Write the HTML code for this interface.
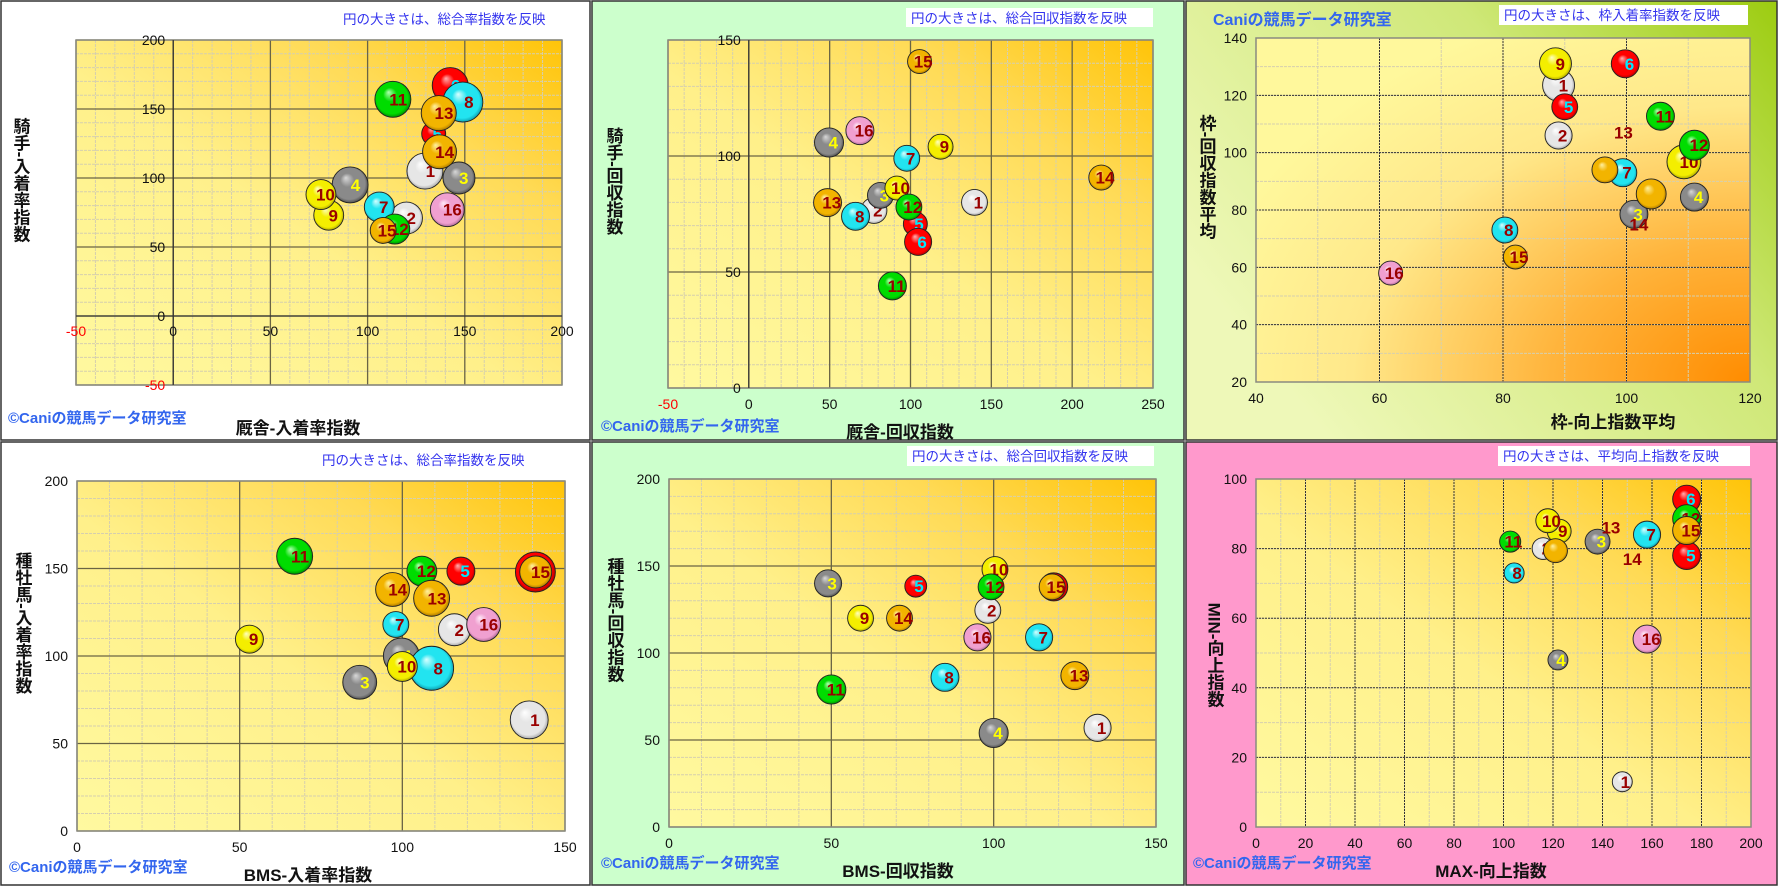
<!DOCTYPE html>
<html><head><meta charset="utf-8">
<style>
html,body{margin:0;padding:0;background:#fff;}
svg{display:block;font-family:"Liberation Sans","Noto Sans CJK JP",sans-serif;}
</style></head>
<body>
<svg id="root" width="1778" height="886" viewBox="0 0 1778 886" xmlns="http://www.w3.org/2000/svg">
<defs>
  <linearGradient id="plotGrad" x1="0" y1="1" x2="1" y2="0">
    <stop offset="0" stop-color="#fff9a0"/><stop offset="0.45" stop-color="#fff08a"/><stop offset="0.75" stop-color="#ffda55"/><stop offset="1" stop-color="#ffc408"/>
  </linearGradient>
  <radialGradient id="plotGrad3" cx="1" cy="1" r="1.15">
    <stop offset="0" stop-color="#ff8c00"/><stop offset="0.35" stop-color="#ffb43c"/><stop offset="0.7" stop-color="#ffe88a"/><stop offset="1" stop-color="#fff89c"/>
  </radialGradient>
  <linearGradient id="p3bg" x1="0" y1="0.6" x2="1" y2="0">
    <stop offset="0" stop-color="#eef8b8"/><stop offset="0.6" stop-color="#cfe878"/><stop offset="1" stop-color="#9ccc10"/>
  </linearGradient>
</defs>
</svg>
<script>
// ---------- data (horse 1..16 per chart) ----------
const horses = [1,2,3,4,5,6,7,8,9,10,11,12,13,14,15,16];
// chart 1: 厩舎-入着率指数 vs 騎手-入着率指数
const c1x = [129.5,120,147,91,134,142.5,106,149,80,76,113,114,136.6,137,108,141];
const c1y = [105,71,100,95,132,167,79,155,73,88,157,63,147,119,62,77];
const c1s = [81,64,64,81,36,81,56,100,56,56,81,56,77,72,42,72];
// chart 2: 厩舎-回収指数 vs 騎手-回収指数
const c2x = [139.6,77.4,81.4,49.6,103,104.7,97.7,66,118.6,91.6,88.8,99,48.7,218,105.6,68.7];
const c2y = [80,76.5,83,105.8,70.7,63,99,74,104,86.2,44,78,79.9,90.7,140.7,110.9];
const c2s = [42,42,42,53,36,46,42,49,39,36,49,42,49,39,36,49];
// chart 3: 枠-向上指数平均 vs 枠-回収指数平均
const c3x = [89,89,101.2,111,90,99.8,99.4,80.3,88.5,109.3,105.5,111,96.5,104,82,61.8];
const c3y = [123.5,106,78.5,84.5,116,131,93,73,131,96.8,112.7,102.6,94,85.6,63.6,58];
const c3s = [64,46,49,49,42,49,49,42,64,72,49,56,42,56,36,36];
const c3labelX = [null,null,null,null,null,null,null,null,null,null,null,null,99.5,102,null,null];
const c3labelY = [null,null,null,null,null,null,null,null,null,null,null,null,107,75,null,null];
// chart 4: BMS-入着率指数 vs 種牡馬-入着率指数
const c4x = [139,116,86.9,99.7,118,140.9,98,109,53,100,66.9,106,109,97,141,125];
const c4y = [63.5,115,85,100,148.5,148,118,93,109.6,94,157,148.5,133,138,148,118];
const c4s = [90,64,72,81,49,100,42,121,49,56,81,56,81,72,64,72];
// chart 5: BMS-回収指数 vs 種牡馬-回収指数
const c5x = [132,98.2,49,100,76,118.5,114,85,59,100.4,50,99.2,125,71,118,95];
const c5y = [57,124.5,140,54,138.4,138,109,86,120,148,79,138,87,120,138,109];
const c5s = [46,42,46,53,30,49,46,49,42,42,53,42,49,42,42,46];
// chart 6: MAX-向上指数 vs MIN-向上指数
const c6x = [148,116,138,122,174,174,158,104.3,122.5,117.9,102.7,174,143.4,121,174,158];
const c6y = [13,80,82,48,78,94.2,84,73,85,88,82,88.6,86,79.4,85.2,54];
const c6s = [25,30,39,25,49,49,46,25,36,36,28,49,0,36,49,49];
const c6labelX = [null,null,null,null,null,null,null,null,null,null,null,null,null,152,null,null];
const c6labelY = [null,null,null,null,null,null,null,null,null,null,null,null,null,77,null,null];
// tick labels
const ticks1x = [-50,0,50,100,150,200];
const ticks1y = [-50,0,50,100,150,200];
const ticks2x = [-50,0,50,100,150,200,250];
const ticks2y = [0,50,100,150];
const ticks3x = [40,60,80,100,120];
const ticks3y = [20,40,60,80,100,120,140];
const ticks4x = [0,50,100,150];
const ticks4y = [0,50,100,150,200];
const ticks5x = [0,50,100,150];
const ticks5y = [0,50,100,150,200];
const ticks6x = [0,20,40,60,80,100,120,140,160,180,200];
const ticks6y = [0,20,40,60,80,100];

// ---------- styling ----------
const NS = "http://www.w3.org/2000/svg";
const svg = document.getElementById('root');
const defs = svg.querySelector('defs');
const colorOf = ['white','white','gray','gray','red','red','cyan','cyan','yellow','yellow','green','green','gold','gold','gold','pink'];
const palette = {
  white:['#ffffff','#e6e6e6','#8a8a8a'], gray:['#d8d8d8','#8a8a8a','#333333'],
  red:['#ffb0b0','#ff0000','#880000'], cyan:['#d8ffff','#22e4f0','#007f90'],
  green:['#b0ffb0','#00dc00','#006600'], gold:['#fff0a0','#f2b400','#8a5c00'],
  yellow:['#ffffc0','#f4ee00','#8a8400'], pink:['#ffe8f6','#f0a0d0','#94507a']
};
Object.keys(palette).forEach(k=>{
  const g=document.createElementNS(NS,'radialGradient');
  g.setAttribute('id','sp-'+k);g.setAttribute('cx','0.5');g.setAttribute('cy','0.5');g.setAttribute('r','0.55');
  g.setAttribute('fx','0.38');g.setAttribute('fy','0.3');
  [[0,palette[k][0]],[0.35,palette[k][1]],[0.8,palette[k][1]],[1,palette[k][2]]].forEach(s=>{
    const st=document.createElementNS(NS,'stop');st.setAttribute('offset',s[0]);st.setAttribute('stop-color',s[1]);g.appendChild(st);
  });
  defs.appendChild(g);
});
function labelColor(h){ return (h===3||h===4)?'#ffff00':(h===5||h===6)?'#00e8ff':'#990000'; }

function el(tag, attrs, parent){
  const e=document.createElementNS(NS,tag);
  for(const k in attrs) e.setAttribute(k,attrs[k]);
  (parent||svg).appendChild(e); return e;
}
function txt(parent, x, y, s, opts){
  const t=el('text',Object.assign({x:x,y:y},opts||{}),parent); t.textContent=s; return t;
}

function drawChart(cfg, xs, ys, ss, lx, ly, tx, ty){
  const g=el('g',{});
  
  
  const bg=el('rect',{x:cfg.px,y:cfg.py,width:cfg.pw,height:cfg.ph,fill:cfg.bg,stroke:'#333','stroke-width':1.5},g);
  
  
  const L=cfg.l,R=cfg.r,T=cfg.t,B=cfg.b;
  const X=v=>L+(v-cfg.x0)/(cfg.x1-cfg.x0)*(R-L);
  const Y=v=>B-(v-cfg.y0)/(cfg.y1-cfg.y0)*(B-T);
  const plot=el('rect',{x:L,y:T,width:R-L,height:B-T,fill:cfg.plotFill},g);
  
  
  const grid=el('g',{},g);
  
  
  for(let v=cfg.x0; v<=cfg.x1+1e-9; v+=cfg.xmin){ el('line',{x1:X(v),x2:X(v),y1:T,y2:B,stroke:'#d6cfae','stroke-width':1,'stroke-dasharray':'3,1'},grid); }
  for(let v=cfg.y0; v<=cfg.y1+1e-9; v+=cfg.ymin){ el('line',{x1:L,x2:R,y1:Y(v),y2:Y(v),stroke:'#d6cfae','stroke-width':1,'stroke-dasharray':'3,1'},grid); }
  const majStyle=cfg.dotted?{stroke:'#333','stroke-width':1,'stroke-dasharray':'2,1'}:{stroke:'#6a6444','stroke-width':1.3};
  tx.forEach(v=>{ el('line',Object.assign({x1:X(v),x2:X(v),y1:T,y2:B},majStyle),grid); });
  ty.forEach(v=>{ el('line',Object.assign({x1:L,x2:R,y1:Y(v),y2:Y(v)},majStyle),grid); });
  el('rect',{x:L,y:T,width:R-L,height:B-T,fill:'none',stroke:'#8a8a80','stroke-width':1.5},g);
  if(cfg.crossY){ el('line',{x1:X(0),x2:X(0),y1:T,y2:B,stroke:'#333','stroke-width':1.3},g); }
  if(cfg.crossX){ el('line',{x1:L,x2:R,y1:Y(0),y2:Y(0),stroke:'#333','stroke-width':1.3},g); }
  const yLabX = cfg.crossY ? X(0)-8 : L-9;
  const xLabY = cfg.crossX ? Y(0)+20 : B+21;
  ty.forEach(v=>{ const t=txt(g,yLabX,Y(v)+5,String(v),{'font-size':14,'text-anchor':'end',fill:v<0?'#ff0000':'#111'});
    
     });
  tx.forEach(v=>{ const t=txt(g,X(v),xLabY,String(v),{'font-size':14,'text-anchor':'middle',fill:v<0?'#ff0000':'#111'});
    
     });
  const bub=el('g',{},g);
  
  
  horses.forEach((h,i)=>{
    const cx=X(xs[i]), cy=Y(ys[i]), r=2*Math.sqrt(ss[i]);
    if(r>0){
      const c=el('circle',{cx:cx,cy:cy,r:r,fill:'url(#sp-'+colorOf[i]+')',stroke:'#222','stroke-width':0.9},bub);
      
      
    }
    const lxp = (lx && lx[i]!=null) ? X(lx[i]) : cx + r*0.3;
    const lyp = (ly && ly[i]!=null) ? Y(ly[i]) : cy;
    const t=txt(bub,lxp,lyp+6,String(h),{'font-size':17,'font-weight':'bold','text-anchor':'middle',fill:labelColor(h),'font-family':'"Liberation Sans Narrow","Liberation Sans",sans-serif'});
    
    
  });
  if(cfg.noteBox){ const nb=el('rect',{x:cfg.noteBox[0],y:cfg.noteBox[1],width:cfg.noteBox[2],height:cfg.noteBox[3],fill:'#fff'},g);
    
     }
  const nt=txt(g,cfg.note[0],cfg.note[1],cfg.noteText,{'font-size':13.5,fill:'#3333ee'});
  
  
  const cp=txt(g,cfg.copy[0],cfg.copy[1],'©Caniの競馬データ研究室',{'font-size':cfg.copyTop?16:15,'font-weight':'bold',fill:'#3366ee'});
  
  
  if(cfg.copyTop) cp.textContent='Caniの競馬データ研究室';
  const xt=txt(g,cfg.xt[0],cfg.xt[1],cfg.xTitle,{'font-size':17,'font-weight':'bold','text-anchor':'middle',fill:'#111'});
  
  
  const yt=txt(g,cfg.yt[0],cfg.yt[1],cfg.yTitle,{'font-size':17,'font-weight':'bold','text-anchor':'middle',fill:'#111','writing-mode':'vertical-rl','glyph-orientation-vertical':'0'});
  
  
}

drawChart({name:'chart-stable-vs-jockey-rate',px:1,py:1,pw:589,ph:439,bg:'#fff',l:76,r:562,t:40,b:385,x0:-50,x1:200,y0:-50,y1:200,xmin:10,ymin:10,crossX:true,crossY:true,plotFill:'url(#plotGrad)',
  note:[343,24],noteText:'円の大きさは、総合率指数を反映',copy:[8,423],xt:[298,434],xTitle:'厩舎-入着率指数',yt:[20,180],yTitle:'騎手-入着率指数'},
  c1x,c1y,c1s,null,null,ticks1x,ticks1y);
drawChart({name:'chart-stable-vs-jockey-return',px:592,py:1,pw:592,ph:439,bg:'#ccffcc',l:668,r:1153,t:40,b:388,x0:-50,x1:250,y0:0,y1:150,xmin:10,ymin:10,crossX:false,crossY:true,plotFill:'url(#plotGrad)',
  noteBox:[906,8,247,19],note:[911,23],noteText:'円の大きさは、総合回収指数を反映',copy:[601,431],xt:[900,438],xTitle:'厩舎-回収指数',yt:[613,181],yTitle:'騎手-回収指数'},
  c2x,c2y,c2s,null,null,ticks2x,ticks2y);
drawChart({name:'chart-frame-improve-vs-return',px:1186,py:1,pw:591,ph:439,bg:'url(#p3bg)',l:1256,r:1750,t:38,b:382,x0:40,x1:120,y0:20,y1:140,xmin:10,ymin:10,dotted:true,crossX:false,crossY:false,plotFill:'url(#plotGrad3)',
  noteBox:[1499,5,249,20],note:[1504,20],noteText:'円の大きさは、枠入着率指数を反映',copy:[1213,25],copyTop:true,xt:[1613,428],xTitle:'枠-向上指数平均',yt:[1206,177],yTitle:'枠-回収指数平均'},
  c3x,c3y,c3s,c3labelX,c3labelY,ticks3x,ticks3y);
drawChart({name:'chart-bms-vs-sire-rate',px:1,py:442,pw:589,ph:443,bg:'#fff',l:77,r:565,t:481,b:831,x0:0,x1:150,y0:0,y1:200,xmin:10,ymin:10,crossX:false,crossY:false,plotFill:'url(#plotGrad)',
  note:[322,465],noteText:'円の大きさは、総合率指数を反映',copy:[9,872],xt:[308,881],xTitle:'BMS-入着率指数',yt:[22,623],yTitle:'種牡馬-入着率指数'},
  c4x,c4y,c4s,null,null,ticks4x,ticks4y);
drawChart({name:'chart-bms-vs-sire-return',px:592,py:442,pw:592,ph:443,bg:'#ccffcc',l:669,r:1156,t:479,b:827,x0:0,x1:150,y0:0,y1:200,xmin:10,ymin:10,crossX:false,crossY:false,plotFill:'url(#plotGrad)',
  noteBox:[907,446,247,20],note:[912,461],noteText:'円の大きさは、総合回収指数を反映',copy:[601,868],xt:[898,877],xTitle:'BMS-回収指数',yt:[614,620],yTitle:'種牡馬-回収指数'},
  c5x,c5y,c5s,null,null,ticks5x,ticks5y);
drawChart({name:'chart-max-vs-min-improve',px:1186,py:442,pw:591,ph:443,bg:'#ff99cc',l:1256,r:1751,t:479,b:827,x0:0,x1:200,y0:0,y1:100,xmin:10,ymin:10,dotted:true,crossX:false,crossY:false,plotFill:'url(#plotGrad)',
  noteBox:[1498,446,252,20],note:[1503,461],noteText:'円の大きさは、平均向上指数を反映',copy:[1193,868],xt:[1491,877],xTitle:'MAX-向上指数',yt:[1214,655],yTitle:'MIN-向上指数'},
  c6x,c6y,c6s,c6labelX,c6labelY,ticks6x,ticks6y);
</script>
</body></html>
